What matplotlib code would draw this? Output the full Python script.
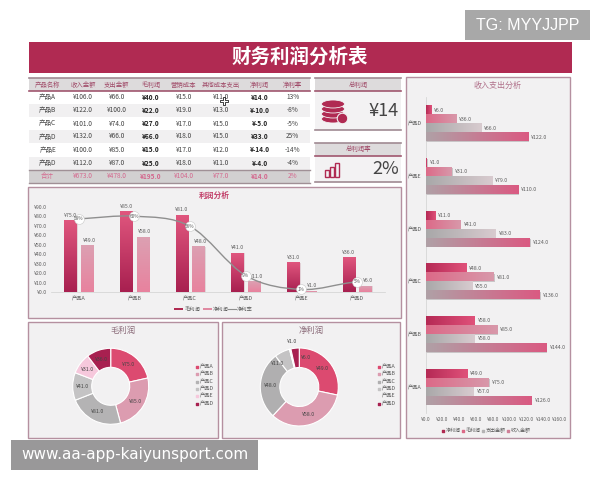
import matplotlib
matplotlib.use('Agg')
import numpy as np
import matplotlib.pyplot as plt
from matplotlib.colors import LinearSegmentedColormap
from matplotlib.patches import Rectangle, Ellipse
from matplotlib.path import Path
from matplotlib.patches import PathPatch

plt.rcParams['font.family'] = ['Noto Sans CJK SC', 'DejaVu Sans']

# table
table_head = ['产品名称', '收入金额', '支出金额', '毛利润', '营销成本', '其他成本支出', '净利润', '净利率']
table_rows = [
    ['产品A', '¥106.0', '¥66.0', '¥40.0', '¥15.0', '¥11.0', '¥14.0', '13%'],
    ['产品B', '¥122.0', '¥100.0', '¥22.0', '¥19.0', '¥13.0', '¥-10.0', '-8%'],
    ['产品C', '¥101.0', '¥74.0', '¥27.0', '¥17.0', '¥15.0', '¥-5.0', '-5%'],
    ['产品D', '¥132.0', '¥66.0', '¥66.0', '¥18.0', '¥15.0', '¥33.0', '25%'],
    ['产品E', '¥100.0', '¥85.0', '¥15.0', '¥17.0', '¥12.0', '¥-14.0', '-14%'],
    ['产品D', '¥112.0', '¥87.0', '¥25.0', '¥18.0', '¥11.0', '¥-4.0', '-4%'],
]
table_total = ['合计', '¥673.0', '¥478.0', '¥195.0', '¥104.0', '¥77.0', '¥14.0', '2%']

# charts
products = ['产品A', '产品B', '产品C', '产品D', '产品E', '产品D']
gross = [75, 85, 81, 41, 31, 36]
net = [49, 58, 48, 11, 1, 6]
rate = [58, 60, 52, 13, 2, 8]
rate_labels = ['58%', '60%', '56%', '9%', '1%', '5%']
expense = [57, 58, 55, 83, 79, 66]
income = [126, 144, 136, 124, 110, 122]
pie_colors = ['#dc4a70', '#dc9cb0', '#b4b3b4', '#c4c3c4', '#f6c8dc', '#a82050']
net_pie_colors = ['#dc4a70', '#dc9cb0', '#b0afb0', '#c4c3c4', '#f2f0f1', '#a82050']

W, H = 600, 480
fig = plt.figure(figsize=(W / 100, H / 100), dpi=100, facecolor='white')
bg = fig.add_axes([0, 0, 1, 1])
bg.set_xlim(0, W)
bg.set_ylim(H, 0)
bg.axis('off')


def box(x0, y0, x1, y1, fc, ec='none', lw=0, z=1):
    bg.add_patch(Rectangle((x0, y0), x1 - x0, y1 - y0, fc=fc, ec=ec, lw=lw, zorder=z))


def px_axes(x0, y0, x1, y1):
    a = fig.add_axes([x0 / W, 1 - y1 / H, (x1 - x0) / W, (y1 - y0) / H])
    a.patch.set_alpha(0)
    return a


def grad(ax, x0, x1, y0, y1, c0, c1, horizontal=True):
    cm = LinearSegmentedColormap.from_list('g', [c0, c1])
    arr = np.linspace(0, 1, 64)
    arr = arr.reshape(1, -1) if horizontal else arr.reshape(-1, 1)
    ax.imshow(arr, cmap=cm, extent=[x0, x1, y0, y1], origin='lower', aspect='auto', zorder=3)


PINK = '#c2406a'
DARK = '#b02a52'
TXT = '#5c5c5c'

# watermark boxes
box(465, 10, 590, 40, '#a8a8a8')
bg.text(527.5, 25.5, 'TG: MYYJJPP', color='white', fontsize=11.5, ha='center', va='center',
        family=['Liberation Sans'], zorder=5)
box(11, 440, 258, 470, '#999899')
bg.text(134.5, 455, 'www.aa-app-kaiyunsport.com', color='white', fontsize=11, ha='center', va='center',
        family=['DejaVu Sans'], zorder=5)

# header
box(29, 42, 572, 73, DARK)
bg.text(300, 57, '财务利润分析表', color='white', fontsize=14, fontweight='bold', ha='center', va='center', zorder=5)

# table
col_x = [47.7, 83, 116.7, 151, 183.7, 221, 259.7, 292.7]
row_y = [97, 110.3, 123.5, 136.5, 149.8, 163]
box(29, 78, 310, 91, '#dddbdc')
bg.plot([29, 310], [78, 78], color='#a08a92', lw=1.2, zorder=2)
bg.plot([29, 310], [90.5, 90.5], color='#a0566e', lw=1.2, zorder=2)
for x, s in zip(col_x, table_head):
    bg.text(x, 84.5, s, color='#a04a68', fontsize=4.6, ha='center', va='center', zorder=5)
for i, (y, row) in enumerate(zip(row_y, table_rows)):
    if i % 2 == 1:
        box(29, y - 6.5, 310, y + 6.5, '#f1f0f1')
    for j, (x, s) in enumerate(zip(col_x, row)):
        bold = j in (3, 6)
        bg.text(x, y, s, color='#222222' if bold else '#444444', fontsize=4.7, ha='center', va='center',
                fontweight='bold' if bold else 'normal', zorder=5)
box(29, 170, 310, 183, '#d2d0d1')
bg.plot([29, 310], [169.5, 169.5], color='#a09096', lw=1, zorder=2)
bg.plot([29, 310], [183, 183], color='#a09096', lw=1, zorder=2)
for j, (x, s) in enumerate(zip(col_x, table_total)):
    bg.text(x, 176.3, s, color='#d4688e', fontsize=4.7, ha='center', va='center',
            fontweight='bold' if j in (3, 6) else 'normal', zorder=5)
bg.scatter([224], [101], marker='P', s=28, c='white', edgecolors='#222222', linewidths=0.6, zorder=6)

# summary cards
box(315, 78, 401, 91, '#dddbdc')
box(315, 91, 401, 130, '#f3f2f3')
for y, c in [(78, '#a08a92'), (91, '#a0566e'), (130, '#a08a92')]:
    bg.plot([315, 401], [y, y], color=c, lw=1.2, zorder=2)
bg.text(358, 84.5, '总利润', color='#a04a68', fontsize=4.6, ha='center', va='center', zorder=5)
bg.text(399, 111, '¥14', color='#444444', fontsize=13, ha='right', va='center', zorder=5)
for y in [119, 114, 109, 104]:
    bg.add_patch(Ellipse((333, y), 23, 8, fc=DARK, ec='#f3f2f3', lw=0.6, zorder=4))
bg.scatter([341.5], [118], marker='o', s=58, c=DARK, edgecolors='#f3f2f3', linewidths=0.8, zorder=5)

box(315, 143, 401, 156, '#dddbdc')
box(315, 156, 401, 182, '#f3f2f3')
for y, c in [(143, '#a08a92'), (156, '#a0566e'), (182, '#a08a92')]:
    bg.plot([315, 401], [y, y], color=c, lw=1.2, zorder=2)
bg.text(358, 149.5, '总利润率', color='#a04a68', fontsize=4.6, ha='center', va='center', zorder=5)
bg.text(399, 169, '2%', color='#444444', fontsize=13, ha='right', va='center', zorder=5)
for x, top in [(325, 170), (330, 167), (335, 163)]:
    bg.add_patch(Rectangle((x, top), 4, 177 - top, fc='none', ec=DARK, lw=1, zorder=4))

# panels
for p in [(28, 187, 401, 318), (28, 322, 218, 438), (222, 322, 400, 438), (406, 77, 570, 438)]:
    box(p[0], p[1], p[2], p[3], '#f2f1f2', ec='#b590a0', lw=1)

# profit bars + rate line
ax = px_axes(50.75, 206.7, 385, 292)
pos = np.arange(len(products))
bw = 0.22
for i in pos:
    grad(ax, i - 0.15 - bw / 2, i - 0.15 + bw / 2, 0, gross[i], '#a82050', '#e0567e', horizontal=False)
    ax.bar(i - 0.15 + 0.025, gross[i], bw, color='#e2d0d6', zorder=2)
    grad(ax, i + 0.15 - bw / 2, i + 0.15 + bw / 2, 0, net[i], '#e8829e', '#dca0b2', horizontal=False)
    ax.bar(i + 0.15 + 0.02, net[i], bw, color='#e0d6d9', zorder=2)
    ax.text(i - 0.15, gross[i] + 3, f'¥{gross[i]:.1f}', fontsize=3.8, color=TXT, ha='center', va='bottom', zorder=6)
    ax.text(i + 0.19, net[i] + 3, f'¥{net[i]:.1f}', fontsize=3.8, color=TXT, ha='center', va='bottom', zorder=6)
ax.set_xlim(-0.5, 5.5)
ax.set_ylim(0, 90)
ax.set_yticks(range(0, 91, 10))
ax.set_yticklabels([f'¥{v:.1f}' for v in range(0, 91, 10)], fontsize=3.8, color=TXT)
ax.set_xticks(pos)
ax.set_xticklabels(products, fontsize=3.8, color=TXT)
ax.tick_params(length=0, pad=3)
for s in ['top', 'right', 'left']:
    ax.spines[s].set_visible(False)
ax.spines['bottom'].set_color('#d0d0d0')
ax.spines['bottom'].set_linewidth(0.5)

ax2 = ax.twinx()
ax2.set_ylim(0, 67.5)
ax2.axis('off')
# smooth line through the rate points
verts = [(pos[0], rate[0])]
codes = [Path.MOVETO]
for i in range(len(rate) - 1):
    p0 = rate[max(i - 1, 0)]
    p3 = rate[min(i + 2, len(rate) - 1)]
    verts += [(i + 1 / 3, rate[i] + (rate[i + 1] - p0) / 6),
              (i + 2 / 3, rate[i + 1] - (p3 - rate[i]) / 6),
              (i + 1, rate[i + 1])]
    codes += [Path.CURVE4] * 3
ax2.add_patch(PathPatch(Path(verts, codes), fc='none', ec='#8f8f8f', lw=1, zorder=4))
ax2.scatter(pos, rate, s=50, c='white', edgecolors='#c8c8c8', linewidths=0.4, zorder=5, clip_on=False)
for i in pos:
    ax2.text(i, rate[i], rate_labels[i], fontsize=3.4, color=TXT, ha='center', va='center', zorder=6)

bg.text(214.7, 195, '利润分析', color=PINK, fontsize=5.6, fontweight='bold', ha='center', va='center', zorder=5)
box(174, 307.5, 183, 310, DARK, z=4)
bg.text(184.5, 309, '毛利润', fontsize=3.8, color=TXT, va='center', zorder=5)
box(203, 307.5, 212, 310, '#e08aa2', z=4)
bg.text(213, 309, '净利润', fontsize=3.8, color=TXT, va='center', zorder=5)
bg.plot([228, 236], [309, 309], color='#8f8f8f', lw=0.8, zorder=4)
bg.text(237, 309, '净利率', fontsize=3.8, color=TXT, va='center', zorder=5)


# donuts
def donut(vals, cx, cy, r, colors, title, title_x, legend_x):
    a = px_axes(cx - r, cy - r, cx + r, cy + r)
    wedges, _ = a.pie(vals, colors=colors, radius=1, startangle=90, counterclock=False,
                      wedgeprops=dict(width=0.5, edgecolor='white', linewidth=0.8))
    a.set_xlim(-1, 1)
    a.set_ylim(-1, 1)
    for w, v in zip(wedges, vals):
        t = np.deg2rad((w.theta1 + w.theta2) / 2)
        x, y = 0.75 * np.cos(t), 0.75 * np.sin(t)
        # the thin slices sit close together, spread their labels
        if v == 11:
            x -= 0.22
            y -= 0.06
        elif v == 1:
            y += 0.45
        elif v == 6:
            x += 0.26
        a.text(x, y, f'¥{v:.1f}', fontsize=3.8, color='#444444', ha='center', va='center')
    bg.text(title_x, 330.5, title, color='#8a6a78', fontsize=6, ha='center', va='center', zorder=5)
    for i, (p, c) in enumerate(zip(products, colors)):
        y = 366.7 + i * 7.4
        bg.scatter([legend_x], [y], s=3, c=c, marker='s', zorder=5)
        bg.text(legend_x + 3, y, p, fontsize=3.8, color=TXT, va='center', zorder=5)


donut(gross, 110.7, 386.3, 38, pie_colors, '毛利润', 123, 196.7)
donut(net, 299.3, 387, 39, net_pie_colors, '净利润', 311, 379)

# income / expense bars
ax3 = px_axes(425.7, 97.4, 559.7, 413.3)
step = 0.171
h = 0.155
series = [(net, 1.5, '#b52a55', '#e0517a'), (gross, 0.5, '#dc6a88', '#d898aa'),
          (expense, -0.5, '#a9a8a9', '#d8cbcf'), (income, -1.5, '#b0a0a6', '#da5a82')]
for vals, off, c0, c1 in series:
    for i, v in enumerate(vals):
        y = i + off * step
        ax3.barh(y - 0.012, v + 1.2, h, color='#c9c5c7', zorder=2)
        grad(ax3, 0, v, y - h / 2, y + h / 2, c0, c1)
        ax3.text(v + 4, y, f'¥{v:.1f}', fontsize=3.8, color=TXT, va='center', zorder=6)
ax3.set_xlim(0, 160)
ax3.set_ylim(-0.5, 5.5)
ax3.set_yticks(pos)
ax3.set_yticklabels(products, fontsize=3.8, color=TXT)
ax3.set_xticks(range(0, 161, 20))
ax3.set_xticklabels([f'¥{v:.1f}' for v in range(0, 161, 20)], fontsize=3.5, color=TXT)
ax3.tick_params(length=0, pad=3)
for s in ['top', 'right', 'bottom']:
    ax3.spines[s].set_visible(False)
ax3.spines['left'].set_color('#d0d0d0')
ax3.spines['left'].set_linewidth(0.5)
bg.text(497, 85, '收入支出分析', color='#b0708a', fontsize=5.8, ha='center', va='center', zorder=5)
for x, s, c in [(443, '净利润', DARK), (463, '毛利润', '#dc6a88'), (483, '支出金额', '#b4b3b4'), (508, '收入金额', '#d08098')]:
    bg.scatter([x], [431], s=3, c=c, marker='s', zorder=5)
    bg.text(x + 2.5, 431, s, fontsize=3.6, color=TXT, va='center', zorder=5)

fig.savefig('out.png', dpi=100)
